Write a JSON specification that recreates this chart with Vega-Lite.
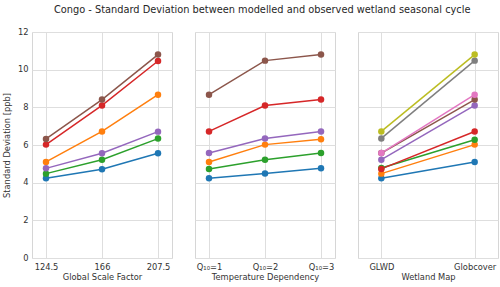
{
  "$schema": "https://vega.github.io/schema/vega-lite/v6.json",
  "background": "white",
  "padding": {"left": 1, "top": 4, "right": 5, "bottom": 2},
  "title": {"text": "Congo - Standard Deviation between modelled and observed wetland seasonal cycle", "fontSize": 9.8, "font": "DejaVu Sans", "fontWeight": "normal", "color": "#262626", "anchor": "middle", "offset": 12, "dx": 12},
  "config": {
    "font": "DejaVu Sans",
    "view": {"stroke": "#d6d6d6", "strokeWidth": 1},
    "axis": {"domain": false, "ticks": false, "gridColor": "#dedede", "gridWidth": 1, "labelFont": "DejaVu Sans", "labelFontSize": 8.3, "labelColor": "#333333", "titleFont": "DejaVu Sans", "titleFontSize": 8.3, "titleFontWeight": "normal", "titleColor": "#333333", "labelPadding": 4},
    "line": {"strokeWidth": 1.5},
    "concat": {"spacing": 21}
  },
  "data": {"values": [
    {"p": "scale", "x": "124.5", "s": "s0", "v": 4.23}, {"p": "scale", "x": "166", "s": "s0", "v": 4.71}, {"p": "scale", "x": "207.5", "s": "s0", "v": 5.56},
    {"p": "scale", "x": "124.5", "s": "s1", "v": 5.10}, {"p": "scale", "x": "166", "s": "s1", "v": 6.72}, {"p": "scale", "x": "207.5", "s": "s1", "v": 8.67},
    {"p": "scale", "x": "124.5", "s": "s2", "v": 4.48}, {"p": "scale", "x": "166", "s": "s2", "v": 5.22}, {"p": "scale", "x": "207.5", "s": "s2", "v": 6.34},
    {"p": "scale", "x": "124.5", "s": "s3", "v": 6.02}, {"p": "scale", "x": "166", "s": "s3", "v": 8.10}, {"p": "scale", "x": "207.5", "s": "s3", "v": 10.46},
    {"p": "scale", "x": "124.5", "s": "s4", "v": 4.76}, {"p": "scale", "x": "166", "s": "s4", "v": 5.56}, {"p": "scale", "x": "207.5", "s": "s4", "v": 6.71},
    {"p": "scale", "x": "124.5", "s": "s5", "v": 6.32}, {"p": "scale", "x": "166", "s": "s5", "v": 8.41}, {"p": "scale", "x": "207.5", "s": "s5", "v": 10.80},
    {"p": "q10", "x": "Q₁₀=1", "s": "s0", "v": 4.23}, {"p": "q10", "x": "Q₁₀=2", "s": "s0", "v": 4.49}, {"p": "q10", "x": "Q₁₀=3", "s": "s0", "v": 4.76},
    {"p": "q10", "x": "Q₁₀=1", "s": "s1", "v": 5.10}, {"p": "q10", "x": "Q₁₀=2", "s": "s1", "v": 6.02}, {"p": "q10", "x": "Q₁₀=3", "s": "s1", "v": 6.30},
    {"p": "q10", "x": "Q₁₀=1", "s": "s2", "v": 4.73}, {"p": "q10", "x": "Q₁₀=2", "s": "s2", "v": 5.22}, {"p": "q10", "x": "Q₁₀=3", "s": "s2", "v": 5.57},
    {"p": "q10", "x": "Q₁₀=1", "s": "s3", "v": 6.72}, {"p": "q10", "x": "Q₁₀=2", "s": "s3", "v": 8.10}, {"p": "q10", "x": "Q₁₀=3", "s": "s3", "v": 8.41},
    {"p": "q10", "x": "Q₁₀=1", "s": "s4", "v": 5.57}, {"p": "q10", "x": "Q₁₀=2", "s": "s4", "v": 6.35}, {"p": "q10", "x": "Q₁₀=3", "s": "s4", "v": 6.72},
    {"p": "q10", "x": "Q₁₀=1", "s": "s5", "v": 8.67}, {"p": "q10", "x": "Q₁₀=2", "s": "s5", "v": 10.48}, {"p": "q10", "x": "Q₁₀=3", "s": "s5", "v": 10.80},
    {"p": "map", "x": "GLWD", "s": "s0", "v": 4.23}, {"p": "map", "x": "Globcover", "s": "s0", "v": 5.10},
    {"p": "map", "x": "GLWD", "s": "s1", "v": 4.48}, {"p": "map", "x": "Globcover", "s": "s1", "v": 6.02},
    {"p": "map", "x": "GLWD", "s": "s2", "v": 4.78}, {"p": "map", "x": "Globcover", "s": "s2", "v": 6.28},
    {"p": "map", "x": "GLWD", "s": "s3", "v": 4.73}, {"p": "map", "x": "Globcover", "s": "s3", "v": 6.72},
    {"p": "map", "x": "GLWD", "s": "s4", "v": 5.22}, {"p": "map", "x": "Globcover", "s": "s4", "v": 8.10},
    {"p": "map", "x": "GLWD", "s": "s5", "v": 5.57}, {"p": "map", "x": "Globcover", "s": "s5", "v": 8.41},
    {"p": "map", "x": "GLWD", "s": "s6", "v": 5.57}, {"p": "map", "x": "Globcover", "s": "s6", "v": 8.67},
    {"p": "map", "x": "GLWD", "s": "s7", "v": 6.35}, {"p": "map", "x": "Globcover", "s": "s7", "v": 10.48},
    {"p": "map", "x": "GLWD", "s": "s8", "v": 6.72}, {"p": "map", "x": "Globcover", "s": "s8", "v": 10.80}
  ]},
  "hconcat": [
    {
      "width": 140, "height": 226,
      "transform": [{"filter": "datum.p === 'scale'"}],
      "mark": {"type": "line", "point": {"filled": true, "size": 42, "opacity": 1}},
      "encoding": {
        "x": {"field": "x", "type": "ordinal", "sort": ["124.5", "166", "207.5"], "scale": {"type": "point", "padding": 0.25}, "axis": {"title": "Global Scale Factor", "labelAngle": 0, "grid": true, "titlePadding": 2}},
        "y": {"field": "v", "type": "quantitative", "scale": {"domain": [0, 12], "nice": false}, "axis": {"title": "Standard Deviation [ppb]", "values": [0, 2, 4, 6, 8, 10, 12], "titlePadding": 6}},
        "color": {"field": "s", "type": "nominal", "legend": null, "scale": {"domain": ["s0", "s1", "s2", "s3", "s4", "s5", "s6", "s7", "s8"], "range": ["#1f77b4", "#ff7f0e", "#2ca02c", "#d62728", "#9467bd", "#8c564b", "#e377c2", "#7f7f7f", "#bcbd22"]}}
      }
    },
    {
      "width": 140, "height": 226,
      "transform": [{"filter": "datum.p === 'q10'"}],
      "mark": {"type": "line", "point": {"filled": true, "size": 42, "opacity": 1}},
      "encoding": {
        "x": {"field": "x", "type": "ordinal", "sort": ["Q₁₀=1", "Q₁₀=2", "Q₁₀=3"], "scale": {"type": "point", "padding": 0.25}, "axis": {"title": "Temperature Dependency", "labelAngle": 0, "grid": true, "titlePadding": 2}},
        "y": {"field": "v", "type": "quantitative", "scale": {"domain": [0, 12], "nice": false}, "axis": {"title": null, "labels": false, "values": [0, 2, 4, 6, 8, 10, 12]}},
        "color": {"field": "s", "type": "nominal", "legend": null, "scale": {"domain": ["s0", "s1", "s2", "s3", "s4", "s5", "s6", "s7", "s8"], "range": ["#1f77b4", "#ff7f0e", "#2ca02c", "#d62728", "#9467bd", "#8c564b", "#e377c2", "#7f7f7f", "#bcbd22"]}}
      }
    },
    {
      "width": 140, "height": 226,
      "transform": [{"filter": "datum.p === 'map'"}],
      "mark": {"type": "line", "point": {"filled": true, "size": 42, "opacity": 1}},
      "encoding": {
        "x": {"field": "x", "type": "ordinal", "sort": ["GLWD", "Globcover"], "scale": {"type": "point", "padding": 0.25}, "axis": {"title": "Wetland Map", "labelAngle": 0, "grid": true, "titlePadding": 2}},
        "y": {"field": "v", "type": "quantitative", "scale": {"domain": [0, 12], "nice": false}, "axis": {"title": null, "labels": false, "values": [0, 2, 4, 6, 8, 10, 12]}},
        "color": {"field": "s", "type": "nominal", "legend": null, "scale": {"domain": ["s0", "s1", "s2", "s3", "s4", "s5", "s6", "s7", "s8"], "range": ["#1f77b4", "#ff7f0e", "#2ca02c", "#d62728", "#9467bd", "#8c564b", "#e377c2", "#7f7f7f", "#bcbd22"]}}
      }
    }
  ]
}
